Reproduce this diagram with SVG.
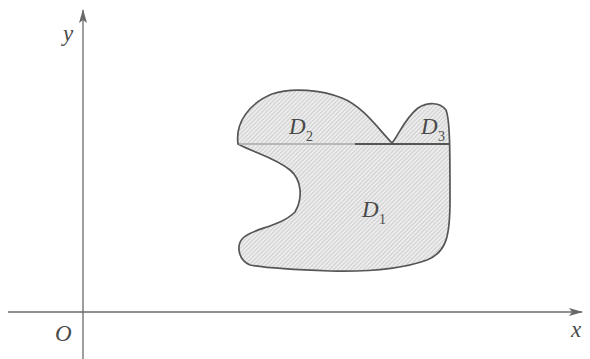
<svg xmlns="http://www.w3.org/2000/svg" width="590" height="359" viewBox="0 0 590 359">
<style>
.axis{stroke:#6a6a6a;stroke-width:1.3;fill:none}
.lbl{font-family:"Liberation Serif",serif;font-style:italic;fill:#4a4a4a;font-size:23px}
.sub{font-family:"Liberation Serif",serif;fill:#4a4a4a;font-size:14px}
.edge{stroke:#555;stroke-width:1.7;fill:url(#hatch)}
</style>
<defs>
<pattern id="hatch" width="3" height="3" patternUnits="userSpaceOnUse" patternTransform="rotate(45)">
<rect width="3" height="3" fill="#ececec"/>
<rect width="1" height="3" fill="#cfcfcf"/>
</pattern>
<marker id="arr" markerWidth="14" markerHeight="10" refX="13" refY="5" orient="auto" markerUnits="userSpaceOnUse">
<path d="M0,1 L14,5 L0,9 L3,5 Z" fill="#6a6a6a"/>
</marker>
</defs>
<rect width="590" height="359" fill="#fff"/>
<g id="axes">
<line class="axis" x1="8" y1="312" x2="582" y2="312" marker-end="url(#arr)"/>
<line class="axis" x1="83" y1="359" x2="83" y2="10" marker-end="url(#arr)"/>
<text class="lbl" x="55" y="341">O</text>
<text class="lbl" x="571" y="337">x</text>
<text class="lbl" x="63" y="41">y</text>
</g>
<g id="region">
<path class="edge" d="M238,144 C235,122 250,103 272,94 C292,87 322,90 342,98 C362,106 376,126 392,143 C398,136 405,118 418,108 C428,102 440,102 446,110 C450,120 450,150 450,200 C450,235 447,252 427,260 C405,268 370,272 330,271 C300,270 270,269 250,265 C238,260 236,245 243,238 C253,228 280,227 295,212 C303,198 302,180 290,170 C275,158 255,153 238,144 Z"/>
<line x1="239" y1="144" x2="355" y2="144" stroke="#a8a8a8" stroke-width="1.7"/>
<line x1="355" y1="144" x2="450" y2="144" stroke="#555" stroke-width="1.9"/>
</g>
<g id="labels">
<text class="lbl" x="289" y="134">D</text><text class="sub" x="306" y="141">2</text>
<text class="lbl" x="421" y="134">D</text><text class="sub" x="438" y="141">3</text>
<text class="lbl" x="362" y="217">D</text><text class="sub" x="379" y="224">1</text>
</g>
</svg>
